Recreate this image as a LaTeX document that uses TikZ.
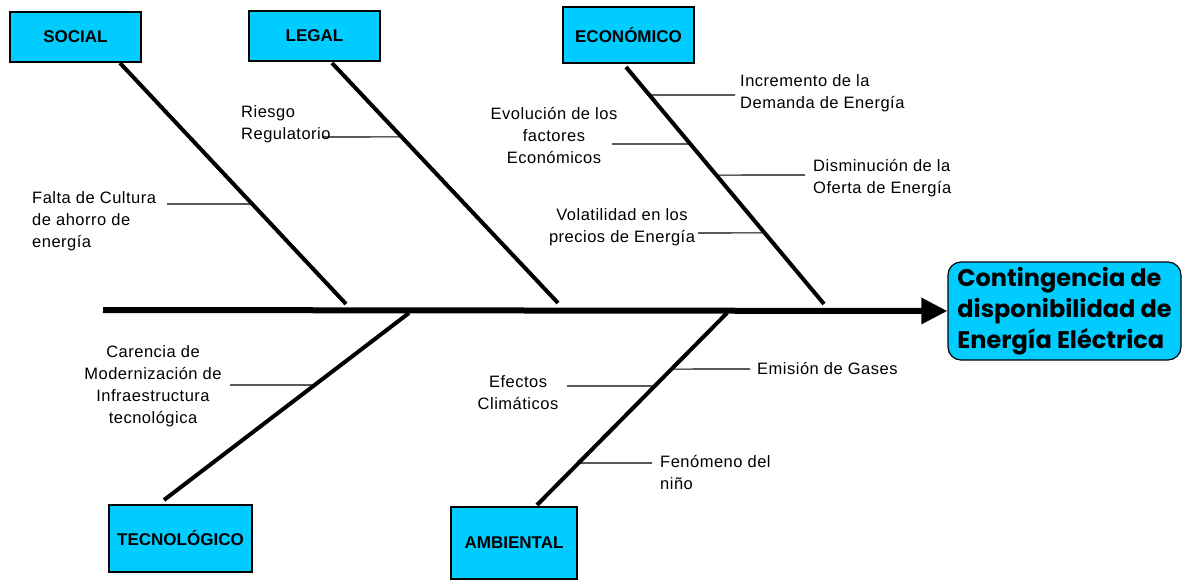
\documentclass[tikz,border=0pt]{standalone}
\usepackage{fontspec}
\setmainfont{Liberation Sans}
\newfontfamily\lblfont[LetterSpace=3]{Liberation Sans}
\newfontfamily\titlefont{Poppins}
\usetikzlibrary{arrows.meta}

\definecolor{boxcyan}{HTML}{00CCFF}

\tikzset{
  causebox/.style={draw,fill=boxcyan,line width=1.2pt,inner sep=0pt,
    font=\fontsize{17}{19}\selectfont\bfseries},
  effectbox/.style={draw,fill=boxcyan,line width=1.2pt,rounded corners=13pt,
    inner sep=0pt,minimum width=233pt,minimum height=98pt,align=left,
    font=\titlefont\fontsize{24}{31}\selectfont\bfseries},
  bone/.style={line width=4pt},
  twig/.style={line width=1.1pt},
  lbl/.style={inner sep=0pt,font=\lblfont\fontsize{16.5}{22}\selectfont}
}

\begin{document}
\begin{tikzpicture}[x=1pt,y=-1pt]
  \useasboundingbox (0,0) rectangle (1188,580);

  % category boxes and effect
  \draw
    (75.5,37) node[causebox,minimum width=131pt,minimum height=50pt] (social){SOCIAL}
    (314.5,36) node[causebox,minimum width=131pt,minimum height=50pt] (legal){LEGAL}
    (628.5,35) node[causebox,minimum width=131pt,minimum height=56pt] (econ){ECONÓMICO}
    (180.5,538.5) node[causebox,minimum width=143pt,minimum height=67pt] (tec){TECNOLÓGICO}
    (514,543) node[causebox,minimum width=126pt,minimum height=72pt] (amb){AMBIENTAL}
    (1064.5,311) node[effectbox] (effect){Contingencia de\\disponibilidad de\\Energía Eléctrica};

  % spine
  \coordinate (tail) at (103,310);
  \draw[line width=6pt,-{Triangle[length=26pt,width=25pt]}] (tail) -- (effect.west);

  % bone ends
  \coordinate (s1) at (120,63);  \coordinate (s2) at (346,304);
  \coordinate (l1) at (332,63);  \coordinate (l2) at (558,303);
  \coordinate (e1) at (626,67);  \coordinate (e2) at (824,304);
  \coordinate (t1) at (409,313); \coordinate (t2) at (164,500);
  \coordinate (a1) at (727,313); \coordinate (a2) at (537,505);

  \begin{scope}[bone]
    \draw (s1) -- coordinate[pos=0.585] (sa) (s2);
    \draw (l1) -- coordinate[pos=0.308] (la) (l2);
    \draw (e1) -- coordinate[pos=0.118] (ea) coordinate[pos=0.325] (eb)
                  coordinate[pos=0.456] (ec) coordinate[pos=0.700] (ed) (e2);
    \draw (t1) -- coordinate[pos=0.385] (ta) (t2);
    \draw (a1) -- coordinate[pos=0.292] (aa) coordinate[pos=0.380] (ab)
                  coordinate[pos=0.781] (ac) (a2);
  \end{scope}

  % causes
  \node[lbl,anchor=west,align=left] (falta) at (32,221) {Falta de Cultura\\de ahorro de\\energía};
  \node[lbl,anchor=west,align=left] (riesgo) at (241,124.5) {Riesgo\\Regulatorio};
  \node[lbl,anchor=west,align=left] (incr) at (740,93) {Incremento de la\\Demanda de Energía};
  \node[lbl,align=center] (evol) at (554,135.5) {Evolución de los\\factores\\Económicos};
  \node[lbl,anchor=west,align=left] (dismi) at (813,178) {Disminución de la\\Oferta de Energía};
  \node[lbl,align=center] (volat) at (622,227.5) {Volatilidad en los\\precios de Energía};
  \node[lbl,align=center] (caren) at (153,386) {Carencia de\\Modernización de\\Infraestructura\\tecnológica};
  \node[lbl,align=center] (efect) at (518,393) {Efectos\\Climáticos};
  \node[lbl,anchor=west] (emis) at (757,369) {Emisión de Gases};
  \node[lbl,anchor=west,align=left] (fenom) at (660,473) {Fenómeno del\\niño};

  % twig ends
  \coordinate (fa) at (167,204);
  \coordinate (ri) at (322,137);
  \coordinate (in) at (735,95);
  \coordinate (ev) at (612,144);
  \coordinate (di) at (805,175);
  \coordinate (vo) at (698,233);
  \coordinate (ca) at (230,385);
  \coordinate (ef) at (567,386);
  \coordinate (em) at (750,369);
  \coordinate (fe) at (652,463);

  \begin{scope}[twig]
    \draw (fa) -- (sa);
    \draw (ri) -- (la);
    \draw (in) -- (ea);
    \draw (ev) -- (eb);
    \draw (di) -- (ec);
    \draw (vo) -- (ed);
    \draw (ca) -- (ta);
    \draw (ef) -- (ab);
    \draw (em) -- (aa);
    \draw (fe) -- (ac);
  \end{scope}
\end{tikzpicture}
\end{document}
